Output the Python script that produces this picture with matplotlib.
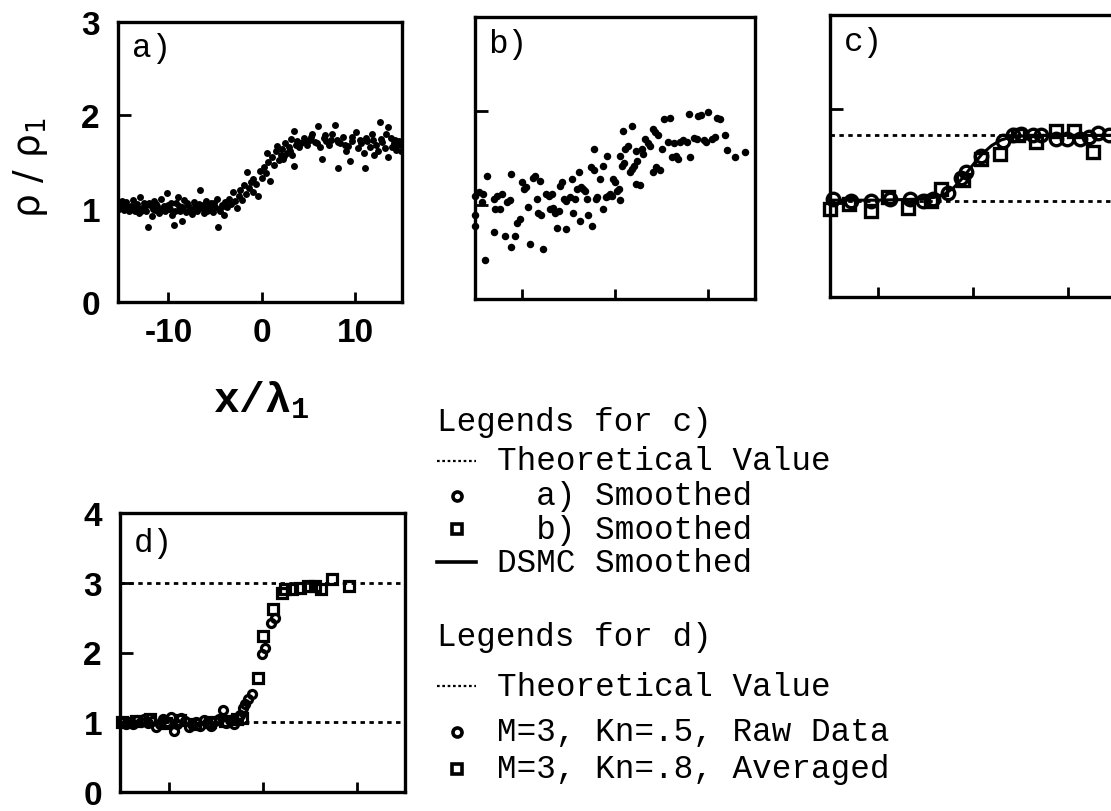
import matplotlib
matplotlib.use("Agg")
import matplotlib.pyplot as plt
from matplotlib.lines import Line2D

# -----------------------
# Data
# -----------------------
# a) raw DSMC density, many scattered dots
a_x = [-15.4, -15.2, -15.0, -14.8, -14.6, -14.4, -14.2, -14.0, -13.8, -13.6, -13.4, -13.2, -13.0, -12.8, -12.6,
       -12.4, -12.2, -12.0, -11.8, -11.6, -11.4, -11.2, -11.0, -10.8, -10.6, -10.4, -10.2, -10.0, -9.8, -9.6,
       -9.4, -9.2, -9.0, -8.8, -8.6, -8.5, -8.3, -8.1, -7.9, -7.7, -7.5, -7.3, -7.1, -6.9, -6.7,
       -6.6, -6.4, -6.2, -6.0, -5.8, -5.6, -5.4, -5.2, -5.0, -4.8, -4.7, -4.5, -4.3, -4.1, -3.9,
       -15.3, -14.9, -14.5, -14.1, -13.7, -13.3, -12.9, -12.5, -12.1, -11.7, -11.3, -10.9, -10.5, -10.1,
       -9.7, -9.3, -8.9, -8.4, -8.0, -7.6, -7.2, -6.8, -6.3, -5.9, -5.5, -5.1, -4.6, -4.2,
       -3.7, -3.5, -3.3, -3.1, -2.9, -2.7, -2.5, -2.3, -2.1, -1.9, -1.7, -1.6, -1.4, -1.2, -1.0,
       -0.9, -0.6, -0.4, -0.2, 0.0, 0.2, 0.4, 0.5, 0.7, 0.9, 1.1, 1.3, 1.5, 1.6, 1.8,
       2.0, 2.2, 2.3, 2.5, 2.7, 2.9, 3.1, 3.2, 3.4, 3.4, 3.6, 3.8,
       4.2, 4.5, 4.8, 5.1, 5.4, 5.7, 6.0, 6.2, 6.4, 6.6, 6.9, 7.2, 7.5, 7.8, 8.0,
       8.2, 8.4, 8.7, 9.0, 9.2, 9.4, 9.7, 10.1, 10.3, 10.6, 10.9, 11.0, 11.3, 11.6, 11.9,
       12.2, 12.4, 12.6, 12.9, 13.2, 13.5, 13.5, 13.8, 14.1, 14.4, 14.7, 14.9,
       4.0, 4.7, 5.3, 5.9, 6.8, 7.4, 8.1, 8.9, 9.6, 10.5, 11.1, 11.8, 12.0, 12.8, 13.3,
       13.9, 14.3, 14.6, 3.0, 2.4]
a_y = [1.06, 1.02, 1.08, 0.99, 1.04, 1.00, 0.97, 1.03, 1.09, 0.98, 1.05, 0.95, 1.12, 1.01, 1.06,
       0.98, 0.80, 1.04, 0.92, 1.08, 0.99, 1.03, 0.95, 1.10, 1.01, 0.97, 1.17, 1.04, 1.00, 0.93,
       0.83, 1.06, 1.13, 0.98, 1.02, 0.87, 1.09, 0.96, 1.04, 1.00, 0.94, 1.07, 1.02, 0.97, 1.05,
       1.20, 1.01, 0.95, 1.08, 1.03, 0.99, 1.06, 0.96, 1.02, 1.10, 0.80, 0.98, 1.04, 0.93, 1.07,
       1.00, 1.03, 1.07, 0.99, 1.02, 1.00, 0.97, 1.03, 1.06, 1.00, 1.05, 0.98, 1.03, 1.00,
       1.06, 0.97, 1.03, 1.00, 1.06, 0.98, 1.03, 1.00, 1.04, 0.97, 1.02, 1.06, 1.00, 1.03,
       1.02, 1.10, 1.05, 1.18, 1.08, 1.01, 1.14, 1.20, 1.09, 1.25, 1.16, 1.39, 1.22, 1.29, 1.18,
       1.32, 1.26, 1.14, 1.40, 1.33, 1.45, 1.38, 1.60, 1.50, 1.30, 1.55, 1.47, 1.62, 1.67, 1.52,
       1.58, 1.64, 1.53, 1.70, 1.60, 1.66, 1.75, 1.57, 1.83, 1.46, 1.68, 1.73,
       1.70, 1.76, 1.68, 1.74, 1.80, 1.71, 1.89, 1.66, 1.53, 1.76, 1.72, 1.68, 1.80, 1.90, 1.74,
       1.44, 1.70, 1.77, 1.62, 1.67, 1.51, 1.73, 1.82, 1.65, 1.70, 1.60, 1.44, 1.72, 1.66, 1.74,
       1.68, 1.62, 1.93, 1.71, 1.65, 1.87, 1.55, 1.76, 1.70, 1.63, 1.72, 1.62,
       1.66, 1.72, 1.77, 1.70, 1.79, 1.74, 1.71, 1.68, 1.77, 1.74, 1.76, 1.80, 1.58, 1.75, 1.80,
       1.66, 1.74, 1.68, 1.62, 1.56]

# b) raw DSMC density, noisier case
b_x = [-15.0, -14.1, -13.75, -15.0, -15.0, -14.3, -13.9, -13.0, -12.9, -12.1,
       -12.3, -11.25, -11.1, -13.0, -11.8, -10.7, -11.1, -10.2, -10.0, -9.8,
       -9.3, -9.1, -8.75, -8.0, -8.4, -8.2, -7.7, -7.1, -7.0, -6.4,
       -6.25, -5.7, -5.5, -5.2, -4.8, -4.6, -4.5, -3.9, -4.1, -3.75,
       -3.4, -3.0, -2.9, -2.5, -2.3, -2.3, -2.0, -1.6, -1.25, -1.25,
       -0.9, -0.7, -0.35, -0.2, 0.2, 0.5, 0.7, 0.9, 1.1, 1.4,
       1.8, 1.6, 2.0, 2.3, 2.7, 3.0, 3.2, 3.75, 4.1, 4.1,
       4.6, 4.8, 5.2, 5.9, 5.7, 6.1, 6.8, 7.0, 7.7, 7.9,
       8.0, 8.75, 8.9, 9.8, 10.0, 10.7, 10.9, 12.0, 12.9, 13.9, 11.8,
       -14.6, -12.6, -11.6, -9.5, -8.6, -7.4, -6.8, -6.0, -5.3, -4.3,
       -3.6, -3.2, -1.9, -1.0, -0.5, 0.0, 0.4, 1.0, 1.8, 2.4,
       2.9, 3.5, 4.3, 5.0, 6.5, 7.3, 8.5, 9.5, 10.4, 11.2,
       -2.6, -10.5, -7.9, -6.6, -5.9, 0.5, 2.2, 4.4, 6.3, 9.2]
b_y = [1.10, 1.12, 1.31, 0.89, 0.78, 1.03, 0.41, 1.06, 0.96, 1.12,
       0.96, 1.05, 1.33, 0.71, 0.67, 0.67, 0.55, 0.85, 1.24, 1.17,
       0.98, 0.59, 1.29, 1.26, 1.06, 0.92, 0.53, 1.10, 0.96, 0.92,
       0.76, 1.24, 1.06, 0.74, 1.08, 1.28, 0.92, 1.35, 1.17, 0.83,
       1.17, 1.06, 0.89, 0.78, 1.37, 1.60, 1.06, 1.28, 1.42, 0.96,
       1.52, 1.10, 1.10, 1.28, 1.15, 1.52, 1.42, 1.79, 1.60, 1.63,
       1.84, 1.35, 1.42, 1.22, 1.21, 1.54, 1.70, 1.63, 1.81, 1.35,
       1.74, 1.37, 1.91, 1.93, 1.67, 1.51, 1.49, 1.67, 1.67, 1.97,
       1.51, 1.70, 1.95, 1.67, 1.99, 1.72, 1.93, 1.58, 1.51, 1.56, 1.74,
       1.14, 1.10, 1.03, 1.19, 1.31, 1.12, 1.12, 0.94, 1.04, 1.06,
       1.19, 1.15, 1.08, 1.08, 1.12, 1.25, 1.17, 1.45, 1.38, 1.47,
       1.60, 1.66, 1.78, 1.60, 1.52, 1.69, 1.71, 1.69, 1.70, 1.91,
       1.40, 0.81, 0.89, 0.97, 1.20, 1.05, 1.57, 1.40, 1.66, 1.96]

# c) smoothed profiles
c_circ_x = [-14.7, -12.8, -10.7, -8.7, -6.6, -5.2, -4.2, -2.6, -1.2, -0.7,
            0.9, 3.2, 4.25, 5.1, 6.35, 7.2, 8.8, 9.9, 11.3, 12.3, 13.2, 14.4]
c_circ_y = [1.04, 1.02, 1.02, 1.04, 1.04, 1.02, 1.04, 1.11, 1.27, 1.33,
            1.50, 1.66, 1.72, 1.73, 1.72, 1.72, 1.68, 1.68, 1.68, 1.70, 1.75, 1.72]
c_sq_x = [-15.0, -12.95, -10.7, -8.9, -6.8, -4.35, -3.3, -1.0, 0.9, 2.85,
          4.8, 6.7, 8.8, 10.7, 12.7]
c_sq_y = [0.94, 0.99, 0.92, 1.06, 0.95, 1.02, 1.15, 1.24, 1.47, 1.52,
          1.72, 1.65, 1.77, 1.77, 1.54]
c_dsmc_x = [-15, -10, -6, -4, -3, -2, -1, 0, 1, 2, 3, 4, 5, 6, 8, 10, 12, 15]
c_dsmc_y = [1.03, 1.03, 1.04, 1.06, 1.09, 1.16, 1.27, 1.40, 1.52, 1.61,
            1.67, 1.70, 1.71, 1.72, 1.72, 1.72, 1.72, 1.72]
c_theory = [1.02, 1.72]

# d) M=3 profiles
d_circ_x = [-15.0, -14.6, -14.2, -13.8, -13.4, -13.0, -12.6, -12.2, -11.8, -11.4,
            -11.0, -10.6, -10.2, -9.8, -9.5, -9.1, -8.7, -8.3, -7.9, -7.5,
            -7.1, -6.7, -6.3, -5.9, -5.5, -5.1, -4.7, -4.2, -3.9, -3.5,
            -3.1, -2.7, -2.4, -2.1, -1.9, -1.6, -1.2, -0.1, 0.2, 0.9, 1.3]
d_circ_y = [1.00, 0.97, 1.01, 0.98, 1.03, 1.00, 1.05, 0.99, 1.02, 0.93,
            0.97, 1.04, 1.00, 1.08, 0.88, 0.98, 1.06, 1.02, 0.93, 0.97,
            1.01, 0.94, 1.03, 0.99, 0.95, 1.02, 1.05, 1.17, 0.99, 1.03,
            0.98, 1.06, 1.10, 1.20, 1.26, 1.34, 1.40, 1.98, 2.07, 2.43, 2.50]
d_sq_x = [-15.0, -13.5, -12.0, -10.3, -8.8, -7.2, -5.6, -4.0, -2.8, -2.2,
          -0.5, 0.0, 1.1, 2.0, 2.3, 3.05, 3.9, 4.8, 5.5, 6.2, 7.3, 9.1]
d_sq_y = [1.00, 1.02, 1.04, 0.99, 1.03, 0.98, 1.00, 1.02, 1.04, 1.06,
          1.64, 2.24, 2.62, 2.86, 2.91, 2.91, 2.93, 2.96, 2.96, 2.91, 3.05, 2.96]
d_theory = [1.0, 3.0]

x_ticks = [-10, 0, 10]

# -----------------------
# Figure, laid out in pixels
# -----------------------
W, H = 1111, 812
fig = plt.figure(figsize=(W / 100, H / 100), dpi=100)
fig.patch.set_facecolor("white")

plt.rcParams["mathtext.fontset"] = "custom"
plt.rcParams["mathtext.rm"] = "Liberation Mono:bold"
plt.rcParams["mathtext.it"] = "Liberation Mono:bold"
plt.rcParams["mathtext.bf"] = "Liberation Mono:bold"

MONO = "Liberation Mono"
SANS = "Liberation Sans"
TXT = 23.5
TICK = 24


def fx(px):
    return px / W


def fy(py):
    return 1 - py / H


def box(left, top, right, bottom):
    return [left / W, 1 - bottom / H, (right - left) / W, (bottom - top) / H]


def style(ax, xlim, ylim, yticks, ylab=False, xlab=False):
    ax.set_xlim(*xlim)
    ax.set_ylim(*ylim)
    ax.set_xticks(x_ticks)
    ax.set_yticks(yticks)
    ax.tick_params(axis="x", direction="in", length=7, width=2, pad=11)
    ax.tick_params(axis="y", direction="in", length=9, width=2, pad=13)
    for s in ax.spines.values():
        s.set_linewidth(2.4)
    if xlab:
        ax.set_xticklabels([str(t) for t in x_ticks], fontfamily=SANS,
                           fontweight="bold", fontsize=TICK)
    else:
        ax.set_xticklabels([])
    if ylab:
        ax.set_yticklabels([str(t) for t in yticks], fontfamily=SANS,
                           fontweight="bold", fontsize=TICK)
    else:
        ax.set_yticklabels([])


ax_a = fig.add_axes(box(118, 23, 402, 303))
ax_b = fig.add_axes(box(475, 18, 755, 300))
ax_c = fig.add_axes(box(830, 16, 1115, 298))
ax_d = fig.add_axes(box(120, 514, 405, 793))

# a)
ax_a.plot(a_x, a_y, "o", color="black", ms=5.0, mew=0)
style(ax_a, (-15.4, 15.0), (0, 3), [0, 1, 2, 3], ylab=True, xlab=True)

# b)
ax_b.plot(b_x, b_y, "o", color="black", ms=5.4, mew=0, clip_on=False)
style(ax_b, (-15.0, 15.0), (0, 3), [0, 1, 2, 3])

# c)
for v in c_theory:
    ax_c.axhline(v, color="black", lw=2.0, ls=(0, (1.6, 1.6)))
ax_c.plot(c_dsmc_x, c_dsmc_y, "-", color="black", lw=2.2)
ax_c.plot(c_circ_x, c_circ_y, "o", mfc="none", mec="black", ms=9, mew=2.4, clip_on=False)
ax_c.plot(c_sq_x, c_sq_y, "s", mfc="none", mec="black", ms=8.5, mew=2.4, clip_on=False)
style(ax_c, (-15.0, 15.0), (0, 3), [0, 1, 2, 3])

# d)
for v in d_theory:
    ax_d.axhline(v, color="black", lw=2.0, ls=(0, (1.6, 1.6)))
ax_d.plot(d_circ_x, d_circ_y, "o", mfc="none", mec="black", ms=5.8, mew=2.3, clip_on=False)
ax_d.plot(d_sq_x, d_sq_y, "s", mfc="none", mec="black", ms=6.6, mew=2.3, clip_on=False)
style(ax_d, (-15.2, 15.1), (0, 4), [0, 1, 2, 3, 4], ylab=True)

# panel labels
for lab, (px, py) in [("a)", (132, 48)), ("b)", (488, 45)),
                      ("c)", (844, 43)), ("d)", (134, 544))]:
    fig.text(fx(px), fy(py), lab, fontfamily=MONO, fontsize=TXT, ha="left", va="center")

# axis titles
fig.text(fx(31), fy(167), r"$\mathrm{\rho\ /\ \rho_1}$", math_fontfamily="dejavusans",
         fontsize=27, rotation=90, ha="center", va="center")
fig.text(fx(261), fy(400), r"$x/\lambda_1$", math_fontfamily="custom",
         fontsize=31, ha="center", va="center")

# -----------------------
# Hand-made legends
# -----------------------
def legend_text(px, py, s):
    fig.text(fx(px), fy(py), s, fontfamily=MONO, fontsize=TXT, ha="left", va="center")


def key_line(py, ls, lw):
    fig.add_artist(Line2D([fx(437), fx(476)], [fy(py), fy(py)], color="black", lw=lw, ls=ls))


def key_marker(py, m, ms):
    fig.add_artist(Line2D([fx(457)], [fy(py)], marker=m, mfc="none", mec="black",
                          ms=ms, mew=2.6, ls="none"))


legend_text(437, 423, "Legends for c)")
key_line(462, (0, (1.2, 1.2)), 1.6)
legend_text(497, 462, "Theoretical Value")
key_marker(497, "o", 6.5)
legend_text(497, 497, "  a) Smoothed")
key_marker(530, "s", 6.5)
legend_text(497, 530, "  b) Smoothed")
key_line(563, "-", 2.6)
legend_text(497, 563, "DSMC Smoothed")

legend_text(437, 638, "Legends for d)")
key_line(687, (0, (1.2, 1.2)), 1.6)
legend_text(497, 687, "Theoretical Value")
key_marker(733, "o", 6.5)
legend_text(497, 733, "M=3, Kn=.5, Raw Data")
key_marker(770, "s", 6.5)
legend_text(497, 770, "M=3, Kn=.8, Averaged")

plt.savefig("out.png", dpi=100, facecolor="white")
